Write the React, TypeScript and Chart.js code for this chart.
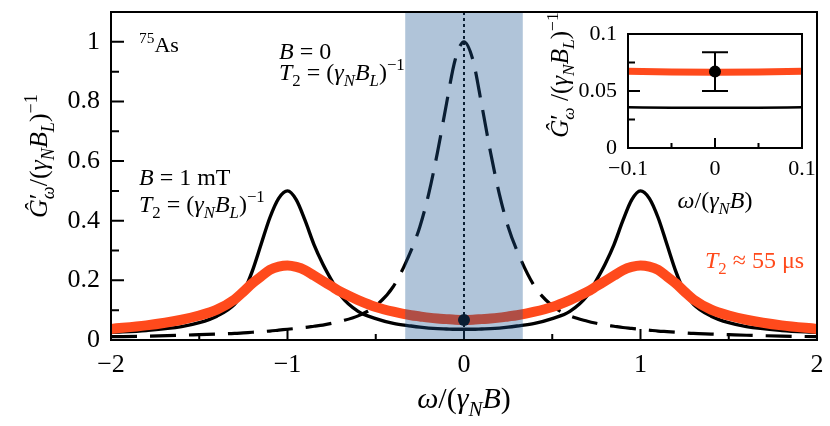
import { useEffect, useRef } from "react";
import { Chart, registerables, type Plugin } from "chart.js";

Chart.register(...registerables);

// main panel: omega / (gamma_N B)
const omega = [
  -2, -1.8, -1.6, -1.5, -1.4, -1.3, -1.25, -1.2, -1.15, -1.1, -1.05, -1, -0.95, -0.9, -0.85, -0.8, -0.75, -0.7, -0.6,
  -0.5, -0.4, -0.3, -0.25, -0.2, -0.15, -0.1, -0.05, 0, 0.05, 0.1, 0.15, 0.2, 0.25, 0.3, 0.4, 0.5, 0.6, 0.7, 0.75,
  0.8, 0.85, 0.9, 0.95, 1, 1.05, 1.1, 1.15, 1.2, 1.25, 1.3, 1.4, 1.5, 1.6, 1.8, 2
];
// B = 0, T2 = (gamma_N B_L)^-1  (dashed)
const curveB0 = [
  0.011, 0.013, 0.016, 0.018, 0.02, 0.022, 0.024, 0.026, 0.028, 0.03, 0.033, 0.036, 0.039, 0.042, 0.046, 0.05, 0.056,
  0.063, 0.081, 0.115, 0.18, 0.3, 0.38, 0.49, 0.63, 0.79, 0.94, 1, 0.94, 0.79, 0.63, 0.49, 0.38, 0.3, 0.18, 0.115,
  0.081, 0.063, 0.056, 0.05, 0.046, 0.042, 0.039, 0.036, 0.033, 0.03, 0.028, 0.026, 0.024, 0.022, 0.02, 0.018, 0.016,
  0.013, 0.011
];
// B = 1 mT, T2 = (gamma_N B_L)^-1  (solid black)
const curveB1mT = [
  0.025, 0.032, 0.045, 0.058, 0.08, 0.12, 0.16, 0.23, 0.32, 0.41, 0.475, 0.5, 0.47, 0.4, 0.32, 0.255, 0.2, 0.15, 0.096,
  0.072, 0.056, 0.047, 0.043, 0.04, 0.038, 0.037, 0.036, 0.036, 0.036, 0.037, 0.038, 0.04, 0.043, 0.047, 0.056, 0.072,
  0.096, 0.15, 0.2, 0.255, 0.32, 0.4, 0.47, 0.5, 0.475, 0.41, 0.32, 0.23, 0.16, 0.12, 0.08, 0.058, 0.045, 0.032, 0.025
];
// T2 ~ 55 us  (orange)
const curveT2 = [
  0.037, 0.049, 0.068, 0.082, 0.102, 0.136, 0.162, 0.19, 0.213, 0.235, 0.246, 0.25, 0.245, 0.234, 0.216, 0.198, 0.18,
  0.162, 0.134, 0.111, 0.095, 0.083, 0.079, 0.075, 0.072, 0.07, 0.068, 0.067, 0.068, 0.07, 0.072, 0.075, 0.079, 0.083,
  0.095, 0.111, 0.134, 0.162, 0.18, 0.198, 0.216, 0.234, 0.245, 0.25, 0.246, 0.235, 0.213, 0.19, 0.162, 0.136, 0.102,
  0.082, 0.068, 0.049, 0.037
];
// measured point
const measOmega = [0];
const measG = [0.067];
const measErr = [0.017];
// shaded window
const shadedOmega = [-0.333, 0.333];

const mainXMajor = [-1, 0, 1];
const mainXMinor = [-1.5, -0.5, 0.5, 1.5];
const mainYMajor = [0.2, 0.4, 0.6, 0.8, 1];
const mainYMinor = [0.1, 0.3, 0.5, 0.7, 0.9];

// inset
const insetOmega = [-0.1, -0.05, 0, 0.05, 0.1];
const insetT2 = [0.0673, 0.0666, 0.0664, 0.0666, 0.0673];
const insetB1mT = [0.0357, 0.0354, 0.0353, 0.0354, 0.0357];
const insetXMajor = [0];
const insetXMinor = [-0.05, 0.05];
const insetYMajor = [0.05];
const insetYMinor = [0.025, 0.075];

const ORANGE = "#ff4a1c";
const SERIF = '"Liberation Serif", "DejaVu Serif", serif';

type Seg = { t: string; i?: boolean; sub?: boolean; sup?: boolean; noAdvance?: boolean };

function segFont(s: Seg, size: number) {
  const sz = s.sub || s.sup ? size * 0.7 : size;
  return `${s.i ? "italic " : ""}${sz}px ${SERIF}`;
}

function drawRich(ctx: CanvasRenderingContext2D, segs: Seg[], x: number, y: number, size: number, color: string, align = "left") {
  ctx.save();
  ctx.fillStyle = color;
  ctx.textAlign = "left";
  ctx.textBaseline = "alphabetic";
  let w = 0;
  for (const s of segs) {
    ctx.font = segFont(s, size);
    if (!s.noAdvance) w += ctx.measureText(s.t).width;
  }
  let cx = align === "center" ? x - w / 2 : x;
  for (const s of segs) {
    ctx.font = segFont(s, size);
    const dy = s.sub ? size * 0.25 : s.sup ? -size * 0.4 : 0;
    ctx.fillText(s.t, cx, y + dy);
    if (!s.noAdvance) cx += ctx.measureText(s.t).width;
  }
  ctx.restore();
}

const T2L: Seg[] = [
  { t: "T", i: true }, { t: "2", sub: true }, { t: " = (" }, { t: "γ", i: true }, { t: "N", i: true, sub: true },
  { t: "B", i: true }, { t: "L", i: true, sub: true }, { t: ")" }, { t: "−1", sup: true }
];
const yTitle: Seg[] = [
  { t: "Ĝ", i: true }, { t: "′", noAdvance: true }, { t: "ω", i: true, sub: true }, { t: "/(" }, { t: "γ", i: true },
  { t: "N", i: true, sub: true }, { t: "B", i: true }, { t: "L", i: true, sub: true }, { t: ")" }, { t: "−1", sup: true }
];
const yTitleInset: Seg[] = [
  { t: "Ĝ", i: true }, { t: "′", noAdvance: true }, { t: "ω", i: true, sub: true }, { t: " /(" }, { t: "γ", i: true },
  { t: "N", i: true, sub: true }, { t: "B", i: true }, { t: "L", i: true, sub: true }, { t: ")" }, { t: "−1", sup: true }
];
const xTitle: Seg[] = [
  { t: "ω", i: true }, { t: "/(" }, { t: "γ", i: true }, { t: "N", i: true, sub: true }, { t: "B", i: true }, { t: ")" }
];

const fmt = (v: number | string) => String(Math.round(Number(v) * 1000) / 1000).replace("-", "−");

function drawTicks(chart: Chart, xs: number[], len: number, axis: "x" | "y") {
  const { ctx, chartArea: a } = chart;
  const sc = chart.scales[axis];
  ctx.beginPath();
  for (const v of xs) {
    const p = sc.getPixelForValue(v);
    if (axis === "x") {
      ctx.moveTo(p, a.bottom);
      ctx.lineTo(p, a.bottom - len);
    } else {
      ctx.moveTo(a.left, p);
      ctx.lineTo(a.left + len, p);
    }
  }
  ctx.stroke();
}

const mainDecor: Plugin<"line"> = {
  id: "mainDecor",
  afterDatasetsDraw(chart) {
    const { ctx, chartArea: a, scales } = chart;
    const x0 = scales.x.getPixelForValue(0);
    ctx.save();
    ctx.strokeStyle = "#000";
    ctx.lineWidth = 2;
    ctx.setLineDash([3, 3]);
    ctx.beginPath();
    ctx.moveTo(x0, a.top);
    ctx.lineTo(x0, a.bottom);
    ctx.stroke();
    ctx.setLineDash([]);
    drawTicks(chart, mainXMajor, 11, "x");
    drawTicks(chart, mainXMinor, 6, "x");
    drawTicks(chart, mainYMajor, 13, "y");
    drawTicks(chart, mainYMinor, 8, "y");
    const l = scales.x.getPixelForValue(shadedOmega[0]);
    const r = scales.x.getPixelForValue(shadedOmega[1]);
    ctx.fillStyle = "rgba(28,86,146,0.35)";
    ctx.fillRect(l, a.top, r - l, a.bottom - a.top);
    ctx.restore();
  },
  afterDraw(chart) {
    const { ctx, chartArea: a } = chart;
    ctx.save();
    ctx.strokeStyle = "#000";
    ctx.lineWidth = 2;
    ctx.strokeRect(a.left, a.top, a.right - a.left, a.bottom - a.top);
    drawRich(ctx, [{ t: "75", sup: true }, { t: "As" }], 139, 52, 22, "#000");
    drawRich(ctx, [{ t: "B", i: true }, { t: " = 0" }], 279, 59, 24, "#000");
    drawRich(ctx, T2L, 279, 80, 24, "#000");
    drawRich(ctx, [{ t: "B", i: true }, { t: " = 1 mT" }], 139, 185, 24, "#000");
    drawRich(ctx, T2L, 139, 212, 24, "#000");
    drawRich(ctx, [{ t: "T", i: true }, { t: "2", sub: true }, { t: " ≈ 55 μs" }], 705, 268, 24, ORANGE);
    drawRich(ctx, xTitle, 464, 408, 30, "#000", "center");
    drawRich(ctx, xTitle, 715, 208, 24, "#000", "center");
    ctx.translate(47, 156);
    ctx.rotate(-Math.PI / 2);
    drawRich(ctx, yTitle, 0, 0, 26, "#000", "center");
    ctx.restore();
    ctx.save();
    ctx.translate(568, 75);
    ctx.rotate(-Math.PI / 2);
    drawRich(ctx, yTitleInset, 0, 0, 25, "#000", "center");
    ctx.restore();
  }
};

const insetDecor: Plugin<"line"> = {
  id: "insetDecor",
  afterDatasetsDraw(chart) {
    const { ctx, scales } = chart;
    ctx.save();
    ctx.strokeStyle = "#000";
    ctx.lineWidth = 2;
    drawTicks(chart, insetXMajor, 10, "x");
    drawTicks(chart, insetXMinor, 5, "x");
    drawTicks(chart, insetYMajor, 12, "y");
    drawTicks(chart, insetYMinor, 7, "y");
    ctx.beginPath();
    measOmega.forEach((w, i) => {
      const px = scales.x.getPixelForValue(w);
      const lo = scales.y.getPixelForValue(measG[i] - measErr[i]);
      const hi = scales.y.getPixelForValue(measG[i] + measErr[i]);
      ctx.moveTo(px, lo);
      ctx.lineTo(px, hi);
      ctx.moveTo(px - 13, lo);
      ctx.lineTo(px + 13, lo);
      ctx.moveTo(px - 13, hi);
      ctx.lineTo(px + 13, hi);
    });
    ctx.stroke();
    ctx.restore();
  },
  afterDraw(chart) {
    const { ctx, chartArea: a } = chart;
    ctx.save();
    ctx.strokeStyle = "#000";
    ctx.lineWidth = 2;
    ctx.strokeRect(a.left, a.top, a.right - a.left, a.bottom - a.top);
    ctx.restore();
  }
};

function axis(min: number, max: number, step: number, size: number, pad: number, fit: (s: any) => void, bounds = true) {
  return {
    type: "linear" as const,
    min,
    max,
    grid: { display: false, drawTicks: false },
    border: { display: false },
    ticks: {
      stepSize: step,
      includeBounds: bounds,
      autoSkip: false,
      maxRotation: 0,
      padding: pad,
      color: "#000",
      font: { family: SERIF, size },
      callback: fmt
    },
    afterFit: (s: any) => {
      fit(s);
      // keep the plot box exactly where the layout padding puts it
      s.paddingTop = 0;
      s.paddingBottom = 0;
      s.paddingLeft = 0;
      s.paddingRight = 0;
    }
  };
}

export default function App() {
  const mainRef = useRef<HTMLCanvasElement | null>(null);
  const insetRef = useRef<HTMLCanvasElement | null>(null);

  useEffect(() => {
    if (!mainRef.current || !insetRef.current) return;
    const pts = (xs: number[], ys: number[]) => xs.map((x, i) => ({ x, y: ys[i] }));

    const main = new Chart(mainRef.current, {
      type: "line",
      data: {
        datasets: [
          { label: "measured", data: pts(measOmega, measG), showLine: false, pointRadius: 6, pointBackgroundColor: "#000", pointBorderWidth: 0, clip: false },
          { label: "T2 ≈ 55 μs", data: pts(omega, curveT2), borderColor: ORANGE, borderWidth: 10, pointRadius: 0, cubicInterpolationMode: "monotone", clip: 0 },
          { label: "B = 1 mT", data: pts(omega, curveB1mT), borderColor: "#000", borderWidth: 3.4, pointRadius: 0, cubicInterpolationMode: "monotone", clip: 0 },
          { label: "B = 0", data: pts(omega, curveB0), borderColor: "#000", borderWidth: 3.2, borderDash: [26, 13], pointRadius: 0, cubicInterpolationMode: "monotone", clip: 0 }
        ]
      },
      options: {
        animation: false,
        responsive: false,
        events: [],
        layout: { padding: { top: 12, right: 13, left: 0, bottom: 0 } },
        plugins: { legend: { display: false }, tooltip: { enabled: false } },
        scales: {
          x: axis(-2, 2, 1, 26, 10, (s) => { s.height = 86; }),
          y: axis(0, 1.1, 0.2, 26, 11, (s) => { s.width = 111; }, false)
        }
      },
      plugins: [mainDecor]
    });

    const inset = new Chart(insetRef.current, {
      type: "line",
      data: {
        datasets: [
          { label: "measured", data: pts(measOmega, measG), showLine: false, pointRadius: 6, pointBackgroundColor: "#000", pointBorderWidth: 0, clip: false },
          { label: "T2 ≈ 55 μs", data: pts(insetOmega, insetT2), borderColor: ORANGE, borderWidth: 7, pointRadius: 0, cubicInterpolationMode: "monotone", clip: 0 },
          { label: "B = 1 mT", data: pts(insetOmega, insetB1mT), borderColor: "#000", borderWidth: 2.5, pointRadius: 0, cubicInterpolationMode: "monotone", clip: 0 }
        ]
      },
      options: {
        animation: false,
        responsive: false,
        events: [],
        layout: { padding: { top: 24, right: 18, left: 0, bottom: 0 } },
        plugins: { legend: { display: false }, tooltip: { enabled: false } },
        scales: {
          x: axis(-0.1, 0.1, 0.1, 22, 8, (s) => { s.height = 72; }),
          y: axis(0, 0.1, 0.05, 22, 11, (s) => { s.width = 88; })
        }
      },
      plugins: [insetDecor]
    });

    return () => {
      main.destroy();
      inset.destroy();
    };
  }, []);

  return (
    <div style={{ position: "absolute", left: 0, top: 0, width: 830, height: 426, background: "#fff" }}>
      <canvas ref={mainRef} width={830} height={426} style={{ position: "absolute", left: 0, top: 0 }} />
      <canvas ref={insetRef} width={280} height={210} style={{ position: "absolute", left: 540, top: 10 }} />
    </div>
  );
}
